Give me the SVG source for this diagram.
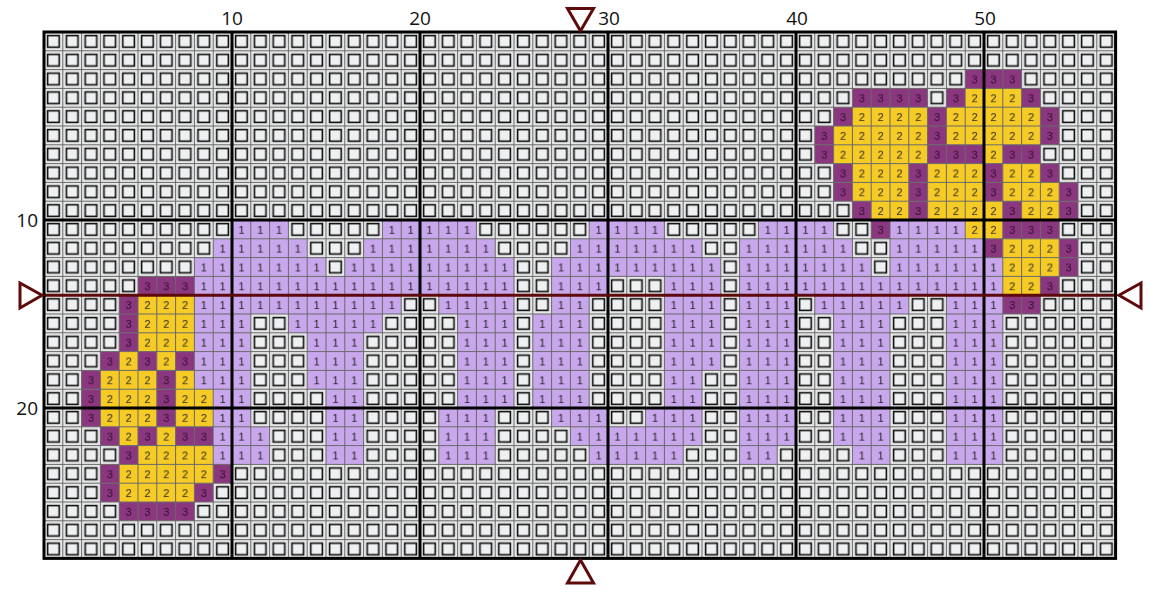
<svg xmlns="http://www.w3.org/2000/svg" width="1155" height="597" viewBox="0 0 1155 597">
<style>
.a{fill:url(#p1)} .b{fill:url(#p2)} .c{fill:url(#p3)}
.num{font-family:"Liberation Sans",Arial,sans-serif;font-size:11px;text-anchor:middle}
.lbl{font-family:"Open Sans","Liberation Sans",sans-serif;font-size:19px;fill:#111}
.major{stroke:#000;stroke-width:3;fill:none}
.mark{fill:#fff;stroke:#5e0a0a;stroke-width:3;stroke-linejoin:miter}
</style>
<defs>
<pattern id="pe" patternUnits="userSpaceOnUse" x="44" y="32" width="18.8" height="18.8">
<rect width="18.8" height="18.8" fill="#e7e8e9"/>
<rect x="3.6" y="3.6" width="11.6" height="11.6" fill="#eef0f1" stroke="#111" stroke-width="1.6"/>
</pattern>
<pattern id="p1" patternUnits="userSpaceOnUse" x="44" y="32" width="18.8" height="18.8">
<rect width="18.8" height="18.8" fill="#c9a7ec"/>
<text class="num" x="9.4" y="13.6" fill="#222">1</text>
</pattern>
<pattern id="p2" patternUnits="userSpaceOnUse" x="44" y="32" width="18.8" height="18.8">
<rect width="18.8" height="18.8" fill="#f6cb25"/>
<text class="num" x="9.4" y="13.6" fill="#2a2a2a">2</text>
</pattern>
<pattern id="p3" patternUnits="userSpaceOnUse" x="44" y="32" width="18.8" height="18.8">
<rect width="18.8" height="18.8" fill="#8b377f"/>
<text class="num" x="9.4" y="13.6" fill="#2e0c2b">3</text>
</pattern>
<pattern id="pg" patternUnits="userSpaceOnUse" x="43.5" y="31.5" width="18.8" height="18.8">
<rect width="18.8" height="1" fill="#686868"/>
<rect width="1" height="18.8" fill="#686868"/>
</pattern>
</defs>
<rect width="1155" height="597" fill="#fff"/>
<g id="labels">
<text class="lbl" x="232" y="25" text-anchor="middle">10</text>
<text class="lbl" x="420" y="25" text-anchor="middle">20</text>
<text class="lbl" x="609" y="25" text-anchor="middle">30</text>
<text class="lbl" x="797" y="25" text-anchor="middle">40</text>
<text class="lbl" x="985" y="25" text-anchor="middle">50</text>
<text class="lbl" x="38" y="227" text-anchor="end">10</text>
<text class="lbl" x="38" y="415" text-anchor="end">20</text>
</g>
<g id="chart">
<rect x="44" y="32" width="1071.6" height="526.4" fill="url(#pe)"/>
<g id="r3"><rect class="c" x="965.2" y="69.6" width="56.4" height="18.8"/></g>
<g id="r4"><rect class="c" x="852.4" y="88.4" width="75.2" height="18.8"/><rect class="c" x="946.4" y="88.4" width="18.8" height="18.8"/><rect class="b" x="965.2" y="88.4" width="56.4" height="18.8"/><rect class="c" x="1021.6" y="88.4" width="18.8" height="18.8"/></g>
<g id="r5"><rect class="c" x="833.6" y="107.2" width="18.8" height="18.8"/><rect class="b" x="852.4" y="107.2" width="75.2" height="18.8"/><rect class="c" x="927.6" y="107.2" width="18.8" height="18.8"/><rect class="b" x="946.4" y="107.2" width="94" height="18.8"/><rect class="c" x="1040.4" y="107.2" width="18.8" height="18.8"/></g>
<g id="r6"><rect class="c" x="814.8" y="126" width="18.8" height="18.8"/><rect class="b" x="833.6" y="126" width="94" height="18.8"/><rect class="c" x="927.6" y="126" width="18.8" height="18.8"/><rect class="b" x="946.4" y="126" width="94" height="18.8"/><rect class="c" x="1040.4" y="126" width="18.8" height="18.8"/></g>
<g id="r7"><rect class="c" x="814.8" y="144.8" width="18.8" height="18.8"/><rect class="b" x="833.6" y="144.8" width="94" height="18.8"/><rect class="c" x="927.6" y="144.8" width="56.4" height="18.8"/><rect class="b" x="984" y="144.8" width="18.8" height="18.8"/><rect class="c" x="1002.8" y="144.8" width="37.6" height="18.8"/></g>
<g id="r8"><rect class="c" x="833.6" y="163.6" width="18.8" height="18.8"/><rect class="b" x="852.4" y="163.6" width="56.4" height="18.8"/><rect class="c" x="908.8" y="163.6" width="18.8" height="18.8"/><rect class="b" x="927.6" y="163.6" width="56.4" height="18.8"/><rect class="c" x="984" y="163.6" width="18.8" height="18.8"/><rect class="b" x="1002.8" y="163.6" width="37.6" height="18.8"/><rect class="c" x="1040.4" y="163.6" width="18.8" height="18.8"/></g>
<g id="r9"><rect class="c" x="833.6" y="182.4" width="18.8" height="18.8"/><rect class="b" x="852.4" y="182.4" width="56.4" height="18.8"/><rect class="c" x="908.8" y="182.4" width="18.8" height="18.8"/><rect class="b" x="927.6" y="182.4" width="56.4" height="18.8"/><rect class="c" x="984" y="182.4" width="18.8" height="18.8"/><rect class="b" x="1002.8" y="182.4" width="56.4" height="18.8"/><rect class="c" x="1059.2" y="182.4" width="18.8" height="18.8"/></g>
<g id="r10"><rect class="c" x="852.4" y="201.2" width="18.8" height="18.8"/><rect class="b" x="871.2" y="201.2" width="37.6" height="18.8"/><rect class="c" x="908.8" y="201.2" width="18.8" height="18.8"/><rect class="b" x="927.6" y="201.2" width="75.2" height="18.8"/><rect class="c" x="1002.8" y="201.2" width="18.8" height="18.8"/><rect class="b" x="1021.6" y="201.2" width="37.6" height="18.8"/><rect class="c" x="1059.2" y="201.2" width="18.8" height="18.8"/></g>
<g id="r11"><rect class="a" x="232" y="220" width="56.4" height="18.8"/><rect class="a" x="382.4" y="220" width="94" height="18.8"/><rect class="a" x="589.2" y="220" width="75.2" height="18.8"/><rect class="a" x="758.4" y="220" width="75.2" height="18.8"/><rect class="c" x="871.2" y="220" width="18.8" height="18.8"/><rect class="a" x="890" y="220" width="75.2" height="18.8"/><rect class="b" x="965.2" y="220" width="37.6" height="18.8"/><rect class="c" x="1002.8" y="220" width="56.4" height="18.8"/></g>
<g id="r12"><rect class="a" x="213.2" y="238.8" width="94" height="18.8"/><rect class="a" x="363.6" y="238.8" width="131.6" height="18.8"/><rect class="a" x="570.4" y="238.8" width="131.6" height="18.8"/><rect class="a" x="739.6" y="238.8" width="112.8" height="18.8"/><rect class="a" x="890" y="238.8" width="94" height="18.8"/><rect class="c" x="984" y="238.8" width="18.8" height="18.8"/><rect class="b" x="1002.8" y="238.8" width="56.4" height="18.8"/><rect class="c" x="1059.2" y="238.8" width="18.8" height="18.8"/></g>
<g id="r13"><rect class="a" x="194.4" y="257.6" width="131.6" height="18.8"/><rect class="a" x="344.8" y="257.6" width="169.2" height="18.8"/><rect class="a" x="551.6" y="257.6" width="169.2" height="18.8"/><rect class="a" x="739.6" y="257.6" width="131.6" height="18.8"/><rect class="a" x="890" y="257.6" width="112.8" height="18.8"/><rect class="b" x="1002.8" y="257.6" width="56.4" height="18.8"/><rect class="c" x="1059.2" y="257.6" width="18.8" height="18.8"/></g>
<g id="r14"><rect class="c" x="138" y="276.4" width="56.4" height="18.8"/><rect class="a" x="194.4" y="276.4" width="319.6" height="18.8"/><rect class="a" x="551.6" y="276.4" width="56.4" height="18.8"/><rect class="a" x="664.4" y="276.4" width="56.4" height="18.8"/><rect class="a" x="739.6" y="276.4" width="263.2" height="18.8"/><rect class="b" x="1002.8" y="276.4" width="37.6" height="18.8"/><rect class="c" x="1040.4" y="276.4" width="18.8" height="18.8"/></g>
<g id="r15"><rect class="c" x="119.2" y="295.2" width="18.8" height="18.8"/><rect class="b" x="138" y="295.2" width="56.4" height="18.8"/><rect class="a" x="194.4" y="295.2" width="206.8" height="18.8"/><rect class="a" x="438.8" y="295.2" width="75.2" height="18.8"/><rect class="a" x="551.6" y="295.2" width="37.6" height="18.8"/><rect class="a" x="664.4" y="295.2" width="56.4" height="18.8"/><rect class="a" x="739.6" y="295.2" width="56.4" height="18.8"/><rect class="a" x="814.8" y="295.2" width="94" height="18.8"/><rect class="a" x="946.4" y="295.2" width="56.4" height="18.8"/><rect class="c" x="1002.8" y="295.2" width="37.6" height="18.8"/></g>
<g id="r16"><rect class="c" x="119.2" y="314" width="18.8" height="18.8"/><rect class="b" x="138" y="314" width="56.4" height="18.8"/><rect class="a" x="194.4" y="314" width="56.4" height="18.8"/><rect class="a" x="288.4" y="314" width="94" height="18.8"/><rect class="a" x="457.6" y="314" width="56.4" height="18.8"/><rect class="a" x="532.8" y="314" width="56.4" height="18.8"/><rect class="a" x="664.4" y="314" width="56.4" height="18.8"/><rect class="a" x="739.6" y="314" width="56.4" height="18.8"/><rect class="a" x="833.6" y="314" width="56.4" height="18.8"/><rect class="a" x="946.4" y="314" width="56.4" height="18.8"/></g>
<g id="r17"><rect class="c" x="119.2" y="332.8" width="18.8" height="18.8"/><rect class="b" x="138" y="332.8" width="56.4" height="18.8"/><rect class="a" x="194.4" y="332.8" width="56.4" height="18.8"/><rect class="a" x="307.2" y="332.8" width="56.4" height="18.8"/><rect class="a" x="457.6" y="332.8" width="56.4" height="18.8"/><rect class="a" x="532.8" y="332.8" width="56.4" height="18.8"/><rect class="a" x="664.4" y="332.8" width="56.4" height="18.8"/><rect class="a" x="739.6" y="332.8" width="56.4" height="18.8"/><rect class="a" x="833.6" y="332.8" width="56.4" height="18.8"/><rect class="a" x="946.4" y="332.8" width="56.4" height="18.8"/></g>
<g id="r18"><rect class="c" x="100.4" y="351.6" width="18.8" height="18.8"/><rect class="b" x="119.2" y="351.6" width="18.8" height="18.8"/><rect class="c" x="138" y="351.6" width="18.8" height="18.8"/><rect class="b" x="156.8" y="351.6" width="18.8" height="18.8"/><rect class="c" x="175.6" y="351.6" width="18.8" height="18.8"/><rect class="a" x="194.4" y="351.6" width="56.4" height="18.8"/><rect class="a" x="307.2" y="351.6" width="56.4" height="18.8"/><rect class="a" x="457.6" y="351.6" width="56.4" height="18.8"/><rect class="a" x="532.8" y="351.6" width="56.4" height="18.8"/><rect class="a" x="664.4" y="351.6" width="56.4" height="18.8"/><rect class="a" x="739.6" y="351.6" width="56.4" height="18.8"/><rect class="a" x="833.6" y="351.6" width="56.4" height="18.8"/><rect class="a" x="946.4" y="351.6" width="56.4" height="18.8"/></g>
<g id="r19"><rect class="c" x="81.6" y="370.4" width="18.8" height="18.8"/><rect class="b" x="100.4" y="370.4" width="56.4" height="18.8"/><rect class="c" x="156.8" y="370.4" width="18.8" height="18.8"/><rect class="b" x="175.6" y="370.4" width="18.8" height="18.8"/><rect class="a" x="194.4" y="370.4" width="56.4" height="18.8"/><rect class="a" x="307.2" y="370.4" width="56.4" height="18.8"/><rect class="a" x="457.6" y="370.4" width="56.4" height="18.8"/><rect class="a" x="532.8" y="370.4" width="56.4" height="18.8"/><rect class="a" x="664.4" y="370.4" width="37.6" height="18.8"/><rect class="a" x="739.6" y="370.4" width="56.4" height="18.8"/><rect class="a" x="833.6" y="370.4" width="56.4" height="18.8"/><rect class="a" x="946.4" y="370.4" width="56.4" height="18.8"/></g>
<g id="r20"><rect class="c" x="81.6" y="389.2" width="18.8" height="18.8"/><rect class="b" x="100.4" y="389.2" width="56.4" height="18.8"/><rect class="c" x="156.8" y="389.2" width="18.8" height="18.8"/><rect class="b" x="175.6" y="389.2" width="37.6" height="18.8"/><rect class="a" x="213.2" y="389.2" width="37.6" height="18.8"/><rect class="a" x="326" y="389.2" width="37.6" height="18.8"/><rect class="a" x="457.6" y="389.2" width="56.4" height="18.8"/><rect class="a" x="532.8" y="389.2" width="56.4" height="18.8"/><rect class="a" x="664.4" y="389.2" width="37.6" height="18.8"/><rect class="a" x="739.6" y="389.2" width="56.4" height="18.8"/><rect class="a" x="833.6" y="389.2" width="56.4" height="18.8"/><rect class="a" x="946.4" y="389.2" width="56.4" height="18.8"/></g>
<g id="r21"><rect class="c" x="81.6" y="408" width="18.8" height="18.8"/><rect class="b" x="100.4" y="408" width="56.4" height="18.8"/><rect class="c" x="156.8" y="408" width="18.8" height="18.8"/><rect class="b" x="175.6" y="408" width="37.6" height="18.8"/><rect class="a" x="213.2" y="408" width="37.6" height="18.8"/><rect class="a" x="326" y="408" width="37.6" height="18.8"/><rect class="a" x="438.8" y="408" width="56.4" height="18.8"/><rect class="a" x="551.6" y="408" width="56.4" height="18.8"/><rect class="a" x="645.6" y="408" width="56.4" height="18.8"/><rect class="a" x="739.6" y="408" width="56.4" height="18.8"/><rect class="a" x="833.6" y="408" width="56.4" height="18.8"/><rect class="a" x="946.4" y="408" width="56.4" height="18.8"/></g>
<g id="r22"><rect class="c" x="100.4" y="426.8" width="18.8" height="18.8"/><rect class="b" x="119.2" y="426.8" width="18.8" height="18.8"/><rect class="c" x="138" y="426.8" width="18.8" height="18.8"/><rect class="b" x="156.8" y="426.8" width="18.8" height="18.8"/><rect class="c" x="175.6" y="426.8" width="37.6" height="18.8"/><rect class="a" x="213.2" y="426.8" width="56.4" height="18.8"/><rect class="a" x="326" y="426.8" width="37.6" height="18.8"/><rect class="a" x="438.8" y="426.8" width="56.4" height="18.8"/><rect class="a" x="570.4" y="426.8" width="131.6" height="18.8"/><rect class="a" x="739.6" y="426.8" width="56.4" height="18.8"/><rect class="a" x="833.6" y="426.8" width="56.4" height="18.8"/><rect class="a" x="946.4" y="426.8" width="56.4" height="18.8"/></g>
<g id="r23"><rect class="c" x="119.2" y="445.6" width="18.8" height="18.8"/><rect class="b" x="138" y="445.6" width="75.2" height="18.8"/><rect class="a" x="213.2" y="445.6" width="56.4" height="18.8"/><rect class="a" x="326" y="445.6" width="37.6" height="18.8"/><rect class="a" x="438.8" y="445.6" width="56.4" height="18.8"/><rect class="a" x="589.2" y="445.6" width="94" height="18.8"/><rect class="a" x="739.6" y="445.6" width="37.6" height="18.8"/><rect class="a" x="852.4" y="445.6" width="37.6" height="18.8"/><rect class="a" x="946.4" y="445.6" width="56.4" height="18.8"/></g>
<g id="r24"><rect class="c" x="100.4" y="464.4" width="18.8" height="18.8"/><rect class="b" x="119.2" y="464.4" width="94" height="18.8"/><rect class="c" x="213.2" y="464.4" width="18.8" height="18.8"/></g>
<g id="r25"><rect class="c" x="100.4" y="483.2" width="18.8" height="18.8"/><rect class="b" x="119.2" y="483.2" width="75.2" height="18.8"/><rect class="c" x="194.4" y="483.2" width="18.8" height="18.8"/></g>
<g id="r26"><rect class="c" x="119.2" y="502" width="75.2" height="18.8"/></g>
<rect x="44" y="32" width="1071.6" height="526.4" fill="url(#pg)"/>
<path class="major" d="M232 32V558.4M420 32V558.4M608 32V558.4M796 32V558.4M984 32V558.4M44 220H1115.6M44 408H1115.6"/>
<line x1="44" y1="295.2" x2="1115.6" y2="295.2" stroke="#5e0a0a" stroke-width="3"/>
<rect x="44" y="32" width="1071.6" height="526.4" class="major"/>
</g>
<g id="markers">
<polygon class="mark" points="567.5,8.5 593.5,8.5 580.5,31"/>
<polygon class="mark" points="580.5,560 593.5,583 567.5,583"/>
<polygon class="mark" points="20,283 20,308 42,295.2"/>
<polygon class="mark" points="1141,283 1141,308 1119,295.2"/>
</g>
</svg>
